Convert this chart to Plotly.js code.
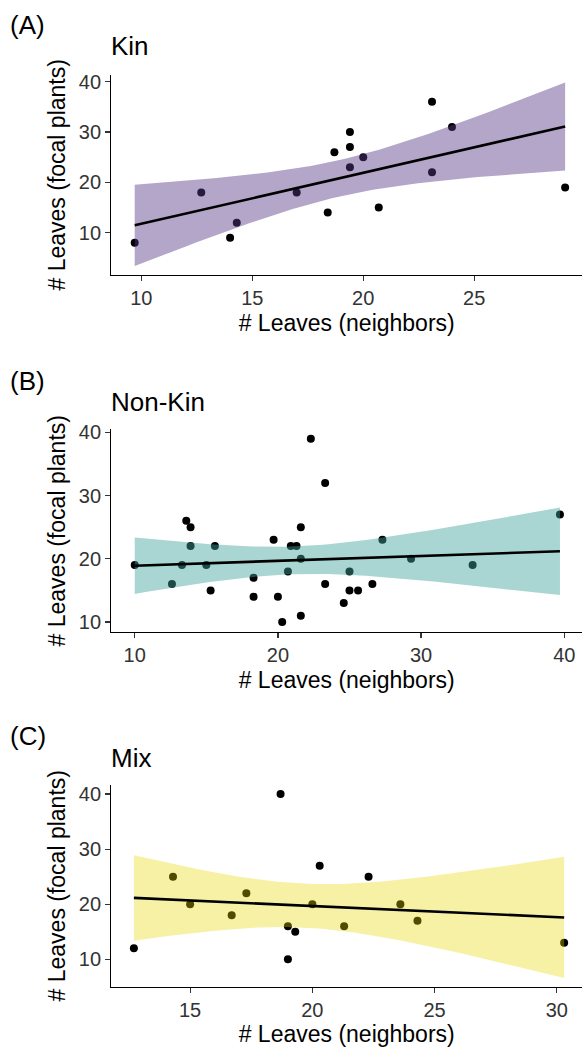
<!DOCTYPE html>
<html>
<head>
<meta charset="utf-8">
<script src="https://cdn.plot.ly/plotly-3.0.1.min.js"></script>
<style>
  html, body { margin: 0; padding: 0; background: #ffffff; }
  #chart { width: 582px; height: 1048px; }
</style>
</head>
<body>
<div id="chart"></div>
<script>
// ---------- data ----------
const panelLabels = ["(A)", "(B)", "(C)"];
const panelTitles = ["Kin", "Non-Kin", "Mix"];
const xTitle = "# Leaves (neighbors)";
const yTitle = "# Leaves (focal plants)";

const kinX = [9.7, 12.7, 14.0, 14.3, 17.0, 18.4, 18.7, 19.4, 19.4, 19.4, 20.0, 20.7, 23.1, 23.1, 24.0, 29.1];
const kinY = [8, 18, 9, 12, 18, 14, 26, 30, 27, 23, 25, 15, 36, 22, 31, 19];

const nonKinX = [10.0, 12.6, 13.3, 13.6, 13.9, 13.9, 15.0, 15.3, 15.6, 18.3, 18.3, 19.7, 20.0, 20.3, 20.7, 20.9,
                 21.3, 21.6, 21.6, 21.6, 22.3, 23.3, 23.3, 24.6, 25.0, 25.0, 25.6, 26.6, 27.3, 29.3, 33.6, 39.7];
const nonKinY = [19, 16, 19, 26, 25, 22, 19, 15, 22, 17, 14, 23, 14, 10, 18, 22,
                 22, 25, 20, 11, 39, 32, 16, 13, 18, 15, 15, 16, 23, 20, 19, 27];

const mixX = [12.7, 14.3, 15.0, 16.7, 17.3, 18.7, 19.0, 19.0, 19.3, 20.0, 20.3, 21.3, 22.3, 23.6, 24.3, 30.3];
const mixY = [12, 25, 20, 18, 22, 40, 16, 10, 15, 20, 27, 16, 25, 20, 17, 13];

const xTicks = [[10, 15, 20, 25], [10, 20, 30, 40], [15, 20, 25, 30]];
const yTicks = [10, 20, 30, 40];

// ---------- linear model + 95% CI (as geom_smooth(method = "lm")) ----------
function lgamma(z) {
  const g = 7, c = [0.99999999999980993, 676.5203681218851, -1259.1392167224028, 771.32342877765313,
    -176.61502916214059, 12.507343278686905, -0.13857109526572012, 9.9843695780195716e-6, 1.5056327351493116e-7];
  if (z < 0.5) return Math.log(Math.PI / Math.sin(Math.PI * z)) - lgamma(1 - z);
  z -= 1; let a = c[0]; const t = z + g + 0.5;
  for (let i = 1; i < g + 2; i++) a += c[i] / (z + i);
  return 0.5 * Math.log(2 * Math.PI) + (z + 0.5) * Math.log(t) - t + Math.log(a);
}
function tcdfUpper(tv, nu) { // P(0 < T < tv)
  const k = Math.exp(lgamma((nu + 1) / 2) - lgamma(nu / 2)) / Math.sqrt(nu * Math.PI);
  const n = 400, h = tv / n; let s = 0;
  for (let i = 0; i <= n; i++) {
    const x = i * h, f = k * Math.pow(1 + x * x / nu, -(nu + 1) / 2);
    s += f * (i === 0 || i === n ? 1 : (i % 2 ? 4 : 2));
  }
  return s * h / 3;
}
function tQuantile975(nu) {
  let lo = 0, hi = 20;
  for (let i = 0; i < 60; i++) { const m = (lo + hi) / 2; if (tcdfUpper(m, nu) < 0.475) lo = m; else hi = m; }
  return (lo + hi) / 2;
}
function lmFit(x, y) {
  const n = x.length;
  const mx = x.reduce((a, b) => a + b, 0) / n, my = y.reduce((a, b) => a + b, 0) / n;
  let sxx = 0, sxy = 0;
  for (let i = 0; i < n; i++) { sxx += (x[i] - mx) ** 2; sxy += (x[i] - mx) * (y[i] - my); }
  const b = sxy / sxx, a = my - b * mx;
  let sse = 0;
  for (let i = 0; i < n; i++) sse += (y[i] - a - b * x[i]) ** 2;
  const s = Math.sqrt(sse / (n - 2)), tq = tQuantile975(n - 2);
  const xmin = Math.min(...x), xmax = Math.max(...x);
  const xs = [], fit = [], lo = [], hi = [];
  for (let i = 0; i < 80; i++) {
    const xv = xmin + (xmax - xmin) * i / 79;
    const f = a + b * xv, se = s * Math.sqrt(1 / n + (xv - mx) ** 2 / sxx);
    xs.push(xv); fit.push(f); lo.push(f - tq * se); hi.push(f + tq * se);
  }
  return { xs, fit, lo, hi };
}

// ---------- figure ----------
const datasets = [[kinX, kinY], [nonKinX, nonKinY], [mixX, mixY]];
const bandColors = ["rgba(86,57,133,0.45)", "rgba(64,162,155,0.45)", "rgba(232,215,0,0.35)"];
const xRanges = [[8.65, 29.86], [8.37, 41.24], [11.78, 31.03]];
const yRanges = [[1.6, 41.4], [8.41, 40.45], [5.05, 41.65]];
const yDomains = [[0.7376, 0.9288], [0.3969, 0.5902], [0.0586, 0.2510]];
const labelY = [25, 380.7, 736];
const titleY = [46, 402, 757.5];
const H = 1048, W = 582;
const FONT = "Liberation Sans, Arial, sans-serif";

const traces = [];
const layout = {
  width: W, height: H,
  margin: { l: 0, r: 0, t: 0, b: 0 },
  paper_bgcolor: "#ffffff", plot_bgcolor: "#ffffff",
  showlegend: false,
  font: { family: FONT, color: "#000000" },
  annotations: []
};

datasets.forEach(([x, y], k) => {
  const sfx = k === 0 ? "" : String(k + 1);
  const xa = "x" + sfx, ya = "y" + sfx;
  const m = lmFit(x, y);
  traces.push({ type: "scatter", mode: "markers", x: x, y: y, xaxis: xa, yaxis: ya,
    marker: { color: "#000000", size: 8 }, hoverinfo: "skip" });
  traces.push({ type: "scatter", mode: "lines", xaxis: xa, yaxis: ya,
    x: m.xs.concat(m.xs.slice().reverse()), y: m.hi.concat(m.lo.slice().reverse()),
    fill: "toself", fillcolor: bandColors[k], line: { width: 0 }, hoverinfo: "skip" });
  traces.push({ type: "scatter", mode: "lines", x: m.xs, y: m.fit, xaxis: xa, yaxis: ya,
    line: { color: "#000000", width: 2.6 }, hoverinfo: "skip" });

  layout["xaxis" + sfx] = {
    domain: [111.4 / W, 1], range: xRanges[k], anchor: ya,
    tickvals: xTicks[k], ticks: "outside", ticklen: 5, tickwidth: 1.2, tickcolor: "#333333",
    tickfont: { size: 20, color: "#333333", family: FONT },
    showline: true, linecolor: "#000000", linewidth: 1.3,
    showgrid: false, zeroline: false, automargin: false, fixedrange: true,
    title: { text: xTitle, font: { size: 23, color: "#000000", family: FONT }, standoff: 6 }
  };
  layout["yaxis" + sfx] = {
    domain: yDomains[k], range: yRanges[k], anchor: xa,
    tickvals: yTicks, ticks: "outside", ticklen: 5, tickwidth: 1.2, tickcolor: "#333333",
    tickfont: { size: 20, color: "#333333", family: FONT },
    showline: true, linecolor: "#000000", linewidth: 1.3,
    showgrid: false, zeroline: false, automargin: false, fixedrange: true,
    title: { text: yTitle, font: { size: 23, color: "#000000", family: FONT }, standoff: 6 }
  };
  layout.annotations.push({ text: panelLabels[k], xref: "paper", yref: "paper",
    x: 8 / W, y: 1 - labelY[k] / H, xanchor: "left", yanchor: "middle", showarrow: false,
    font: { size: 26, color: "#000000", family: FONT } });
  layout.annotations.push({ text: panelTitles[k], xref: "paper", yref: "paper",
    x: 109 / W, y: 1 - titleY[k] / H, xanchor: "left", yanchor: "middle", showarrow: false,
    font: { size: 26, color: "#000000", family: FONT } });
});

Plotly.newPlot("chart", traces, layout, { staticPlot: true, displayModeBar: false });
</script>
</body>
</html>
